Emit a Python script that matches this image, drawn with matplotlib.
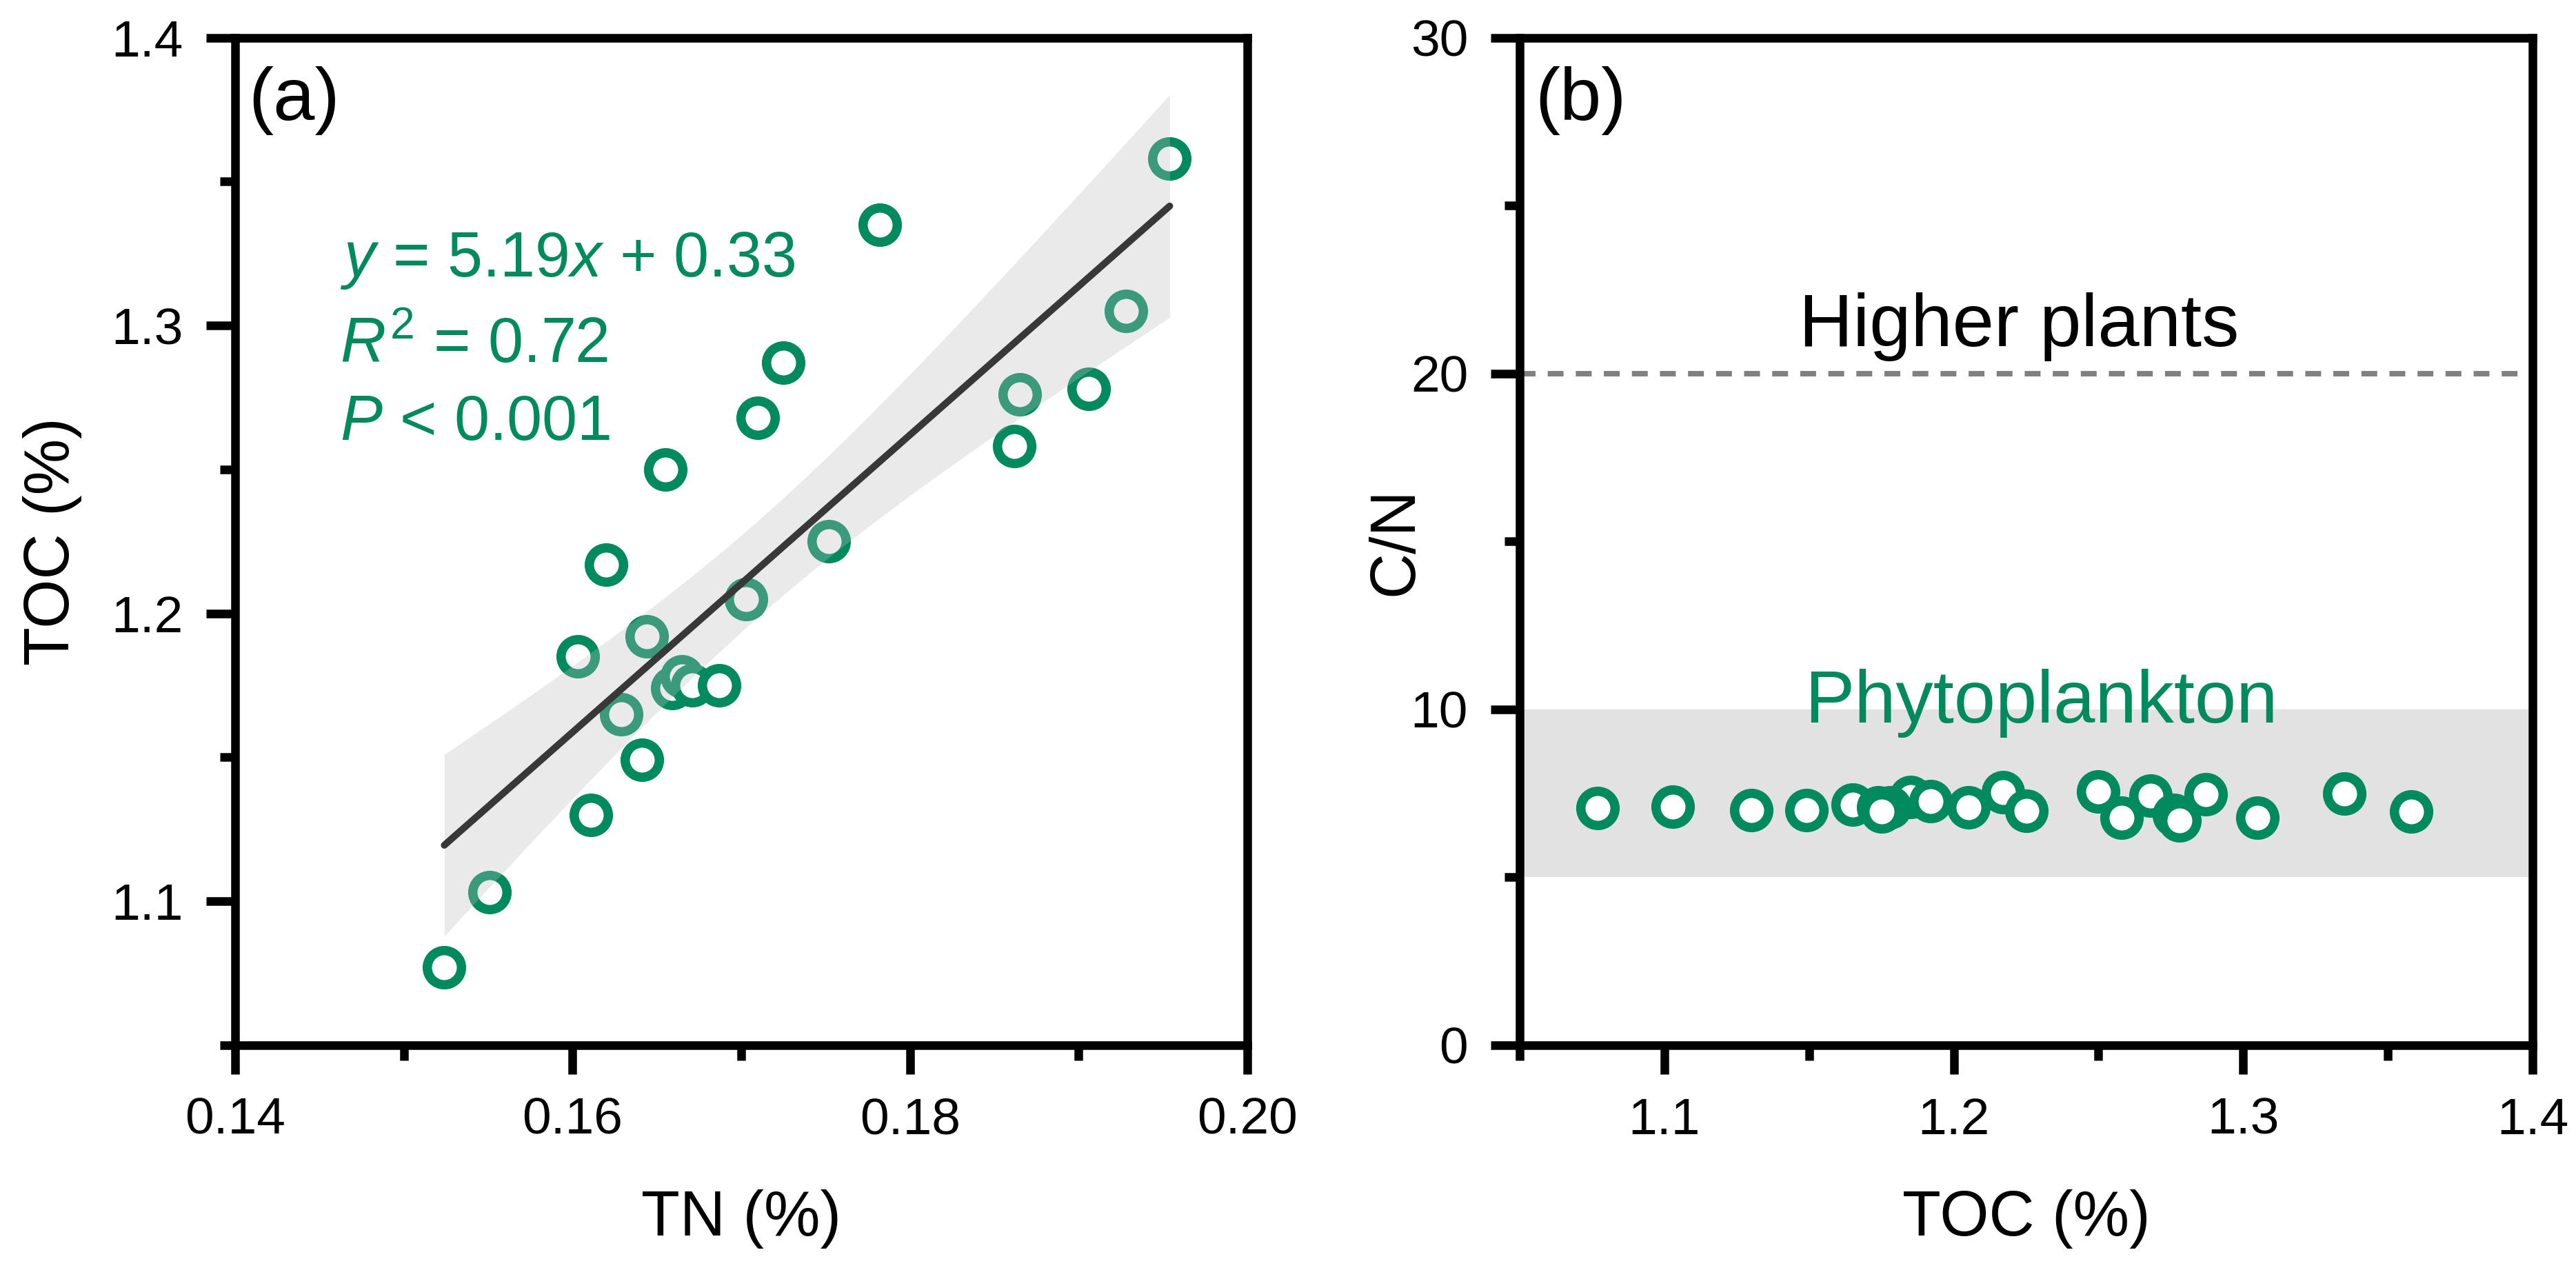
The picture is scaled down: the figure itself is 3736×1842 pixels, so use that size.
import numpy as np
import matplotlib
matplotlib.use('Agg')
import matplotlib.pyplot as plt
import matplotlib.transforms as mtransforms
from matplotlib.ticker import MultipleLocator, AutoMinorLocator, FormatStrFormatter

# values (23 samples)
tn = [0.1524, 0.1551, 0.1611, 0.1641, 0.1629, 0.1603, 0.1644, 0.1620, 0.1659, 0.1665, 0.1671, 0.1687,
      0.1703, 0.1655, 0.1710, 0.1725, 0.1752, 0.1782, 0.1862, 0.1865, 0.1906, 0.1928, 0.1954]
toc = [1.077, 1.103, 1.130, 1.149, 1.165, 1.185, 1.192, 1.217, 1.174, 1.178, 1.175, 1.175,
       1.205, 1.250, 1.268, 1.287, 1.225, 1.335, 1.258, 1.276, 1.278, 1.305, 1.358]
cn = [7.05, 7.10, 7.00, 7.00, 7.15, 7.39, 7.26, 7.52, 7.08, 7.07, 7.03, 6.96,
      7.08, 7.55, 7.42, 7.46, 6.98, 7.49, 6.76, 6.86, 6.69, 6.77, 6.96]

fit_text = [r'$y$ = 5.19$x$ + 0.33', r'$R^{\mathrm{2}}$ = 0.72', r'$P$ < 0.001']
phyto_range = (5, 10)
higher_plants_cn = 20
t_95 = 2.080  # t value, df = 21

GREEN = '#008A5E'

plt.rcParams.update({
    'font.family': ['Liberation Sans', 'DejaVu Sans'],
    'mathtext.fontset': 'custom',
    'mathtext.rm': 'Liberation Sans',
    'mathtext.it': 'Liberation Sans:italic',
    'font.size': 18,
})


def style_axes(ax):
    for side in ['left', 'right', 'top', 'bottom']:
        ax.spines[side].set_linewidth(3)
    ax.tick_params(which='both', direction='out', width=3, top=False, right=False,
                   labelsize=18, pad=8, colors='black')
    ax.tick_params(which='major', length=10)
    ax.tick_params(which='minor', length=5.2)


fig = plt.figure(figsize=(3736 / 300, 1842 / 300), dpi=300)
ax_a = fig.add_axes([0.09127, 0.17715, 0.39293, 0.79316])
ax_b = fig.add_axes([0.58994, 0.17715, 0.39320, 0.79316])

# ---- (a) TOC vs TN, linear fit with 95% confidence band
tn_arr = np.array(tn)
toc_arr = np.array(toc)
slope, intercept = np.polyfit(tn_arr, toc_arr, 1)
xs = np.linspace(tn_arr.min(), tn_arr.max(), 200)
ys = slope * xs + intercept
n = len(tn_arr)
resid = toc_arr - (slope * tn_arr + intercept)
s = np.sqrt(np.sum(resid ** 2) / (n - 2))
sxx = np.sum((tn_arr - tn_arr.mean()) ** 2)
half = t_95 * s * np.sqrt(1 / n + (xs - tn_arr.mean()) ** 2 / sxx)

ax_a.plot(tn, toc, 'o', ls='none', ms=11.9, mfc='white', mec=GREEN, mew=3.25, zorder=2)
ax_a.fill_between(xs, ys - half, ys + half, color='#bebebe', alpha=0.31, lw=0, zorder=3)
ax_a.plot(xs, ys, color='#383838', lw=2.4, solid_capstyle='round', zorder=4)

for txt, yv in zip(fit_text, [1.3171, 1.2871, 1.2602]):
    ax_a.text(0.1462, yv, txt, color=GREEN, fontsize=22, ha='left', va='baseline', zorder=5)

ax_a.text(0.013, 0.918, '(a)', transform=ax_a.transAxes, fontsize=26, ha='left', va='baseline')

ax_a.set_xlim(0.14, 0.20)
ax_a.set_ylim(1.05, 1.4)
ax_a.xaxis.set_major_locator(MultipleLocator(0.02))
ax_a.xaxis.set_minor_locator(AutoMinorLocator(2))
ax_a.yaxis.set_major_locator(MultipleLocator(0.1))
ax_a.yaxis.set_minor_locator(AutoMinorLocator(2))
ax_a.xaxis.set_major_formatter(FormatStrFormatter('%.2f'))
ax_a.yaxis.set_major_formatter(FormatStrFormatter('%.1f'))
ax_a.set_xlabel('TN (%)', fontsize=22)
ax_a.set_ylabel('TOC (%)', fontsize=22)
ax_a.xaxis.set_label_coords(0.5, -0.1433)
ax_a.yaxis.set_label_coords(-0.1512, 0.5)
style_axes(ax_a)

# ---- (b) C/N vs TOC
ax_b.axhspan(phyto_range[0], phyto_range[1], color='#e2e2e2', lw=0, zorder=1)
ax_b.axhline(higher_plants_cn, color='#808080', lw=1.9, dashes=(2.9, 2.24), zorder=2)
ax_b.plot(toc, cn, 'o', ls='none', ms=11.9, mfc='white', mec=GREEN, mew=3.25, zorder=3)

trans = mtransforms.blended_transform_factory(ax_b.transAxes, ax_b.transData)
ax_b.text(0.493, 20.82, 'Higher plants', transform=trans, fontsize=26, ha='center', va='baseline')
ax_b.text(0.515, 9.61, 'Phytoplankton', transform=trans, fontsize=26, color=GREEN,
          ha='center', va='baseline', zorder=4)
ax_b.text(0.015, 0.918, '(b)', transform=ax_b.transAxes, fontsize=26, ha='left', va='baseline')

ax_b.set_xlim(1.05, 1.4)
ax_b.set_ylim(0, 30)
ax_b.xaxis.set_major_locator(MultipleLocator(0.1))
ax_b.xaxis.set_minor_locator(AutoMinorLocator(2))
ax_b.yaxis.set_major_locator(MultipleLocator(10))
ax_b.yaxis.set_minor_locator(AutoMinorLocator(2))
ax_b.xaxis.set_major_formatter(FormatStrFormatter('%.1f'))
ax_b.set_xlabel('TOC (%)', fontsize=22)
ax_b.set_ylabel('C/N', fontsize=22)
ax_b.xaxis.set_label_coords(0.5, -0.1433)
ax_b.yaxis.set_label_coords(-0.0933, 0.5)
style_axes(ax_b)

fig.savefig('out.png', dpi=300, facecolor='white')
